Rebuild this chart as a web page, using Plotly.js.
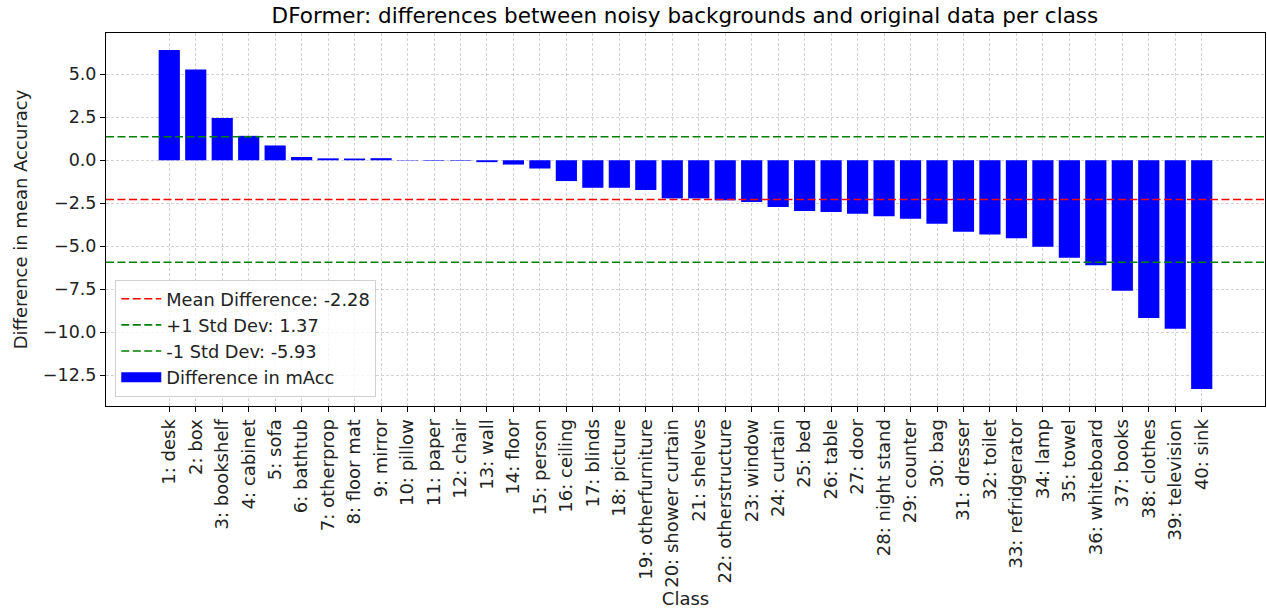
<!DOCTYPE html>
<html>
<head>
<meta charset="utf-8">
<script src="https://cdn.plot.ly/plotly-3.0.1.min.js"></script>
<style>html,body{margin:0;padding:0;background:#fff;}#chart{width:1267px;height:613px;}</style>
</head>
<body>
<div id="chart"></div>
<script>
const classNames = ["1: desk","2: box","3: bookshelf","4: cabinet","5: sofa","6: bathtub","7: otherprop","8: floor mat","9: mirror","10: pillow","11: paper","12: chair","13: wall","14: floor","15: person","16: ceiling","17: blinds","18: picture","19: otherfurniture","20: shower curtain","21: shelves","22: otherstructure","23: window","24: curtain","25: bed","26: table","27: door","28: night stand","29: counter","30: bag","31: dresser","32: toilet","33: refridgerator","34: lamp","35: towel","36: whiteboard","37: books","38: clothes","39: television","40: sink"];
const diffValues = [6.41,5.28,2.45,1.42,0.86,0.19,0.11,0.10,0.12,-0.02,-0.03,-0.03,-0.11,-0.25,-0.48,-1.21,-1.60,-1.60,-1.73,-2.22,-2.22,-2.33,-2.43,-2.72,-2.95,-3.01,-3.11,-3.25,-3.40,-3.69,-4.16,-4.31,-4.53,-5.03,-5.67,-6.10,-7.59,-9.18,-9.80,-13.30];
const meanDiff = -2.28;
const plusStd = 1.37;
const minusStd = -5.93;
const yTickVals = [-12.5,-10.0,-7.5,-5.0,-2.5,0.0,2.5,5.0];

const font = "DejaVu Sans, sans-serif";
function hline(y, color, name) {
  return {type:'scatter', mode:'lines', x:[0,1], y:[y,y], xaxis:'x2', yaxis:'y',
    name:name, line:{color:color, width:1.6, dash:'8px,3.5px'}, hoverinfo:'skip'};
}
const traces = [
  hline(meanDiff, '#ff0000', 'Mean Difference: ' + meanDiff.toFixed(2)),
  hline(plusStd, '#008000', '+1 Std Dev: ' + plusStd.toFixed(2)),
  hline(minusStd, '#008000', '-1 Std Dev: ' + minusStd.toFixed(2)),
  // legend swatch for the bars (wide rectangle like the reference)
  {type:'scatter', mode:'lines', x:[null], y:[null], xaxis:'x2', yaxis:'y',
   name:'Difference in mAcc', line:{color:'#0000ff', width:12}},
  {type:'bar', x:classNames, y:diffValues, name:'Difference in mAcc', showlegend:false,
   marker:{color:'#0000ff', line:{width:0}}}
];
const n = classNames.length;
const layout = {
  width:1267, height:613,
  margin:{l:106, r:2, t:33, b:207},
  paper_bgcolor:'#fff', plot_bgcolor:'#fff',
  font:{family:font, size:18, color:'#222'},
  title:{text:'DFormer: differences between noisy backgrounds and original data per class',
    font:{family:font, size:21.5, color:'#000'}, x:0.5406, xanchor:'center', y:0.975, yanchor:'middle'},
  bargap:0.2,
  showlegend:true,
  legend:{x:0.008, y:0.025, xanchor:'left', yanchor:'bottom', bgcolor:'rgba(255,255,255,0.8)',
    bordercolor:'#d0d0d0', borderwidth:1, font:{family:font, size:17.8, color:'#222'},
    tracegroupgap:0, itemwidth:40},
  xaxis:{type:'category', range:[-2.39, n-1+2.39], showgrid:true, gridcolor:'#c8c8c8', griddash:'3px,2px', gridwidth:0.8,
    tickangle:-90, ticks:'outside', ticklen:5, tickcolor:'#000', tickfont:{family:font, size:18, color:'#222'},
    showline:true, linecolor:'#000', linewidth:1, mirror:true, zeroline:false,
    title:{text:'Class', font:{family:font, size:18, color:'#222'}, standoff:3}, automargin:false},
  xaxis2:{overlaying:'x', range:[0,1], visible:false, fixedrange:true},
  yaxis:{range:[-14.29, 7.40], tickvals:yTickVals, tickformat:'.1f', showgrid:true, gridcolor:'#c8c8c8', griddash:'3px,2px', gridwidth:0.8,
    ticks:'outside', ticklen:5, tickcolor:'#000', tickfont:{family:font, size:17.5, color:'#222'},
    showline:true, linecolor:'#000', linewidth:1, mirror:true, zeroline:false,
    title:{text:'Difference in mean Accuracy', font:{family:font, size:18, color:'#222'}, standoff:10}, automargin:false}
};
Plotly.newPlot('chart', traces, layout, {displayModeBar:false, staticPlot:true});
</script>
</body>
</html>
